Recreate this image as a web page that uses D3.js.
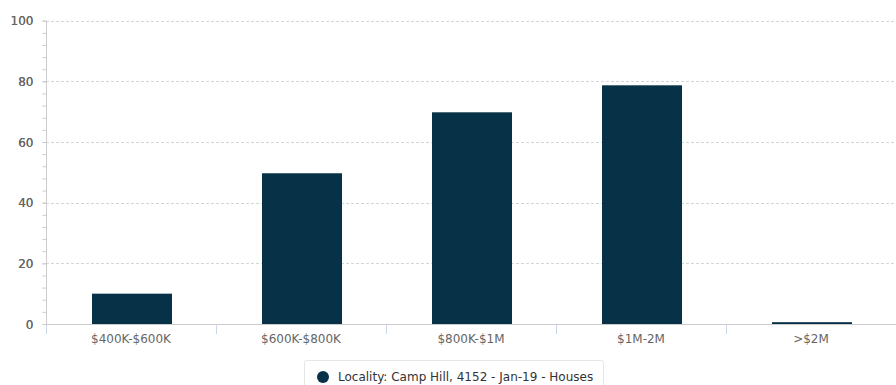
<!DOCTYPE html>
<html>
<head>
<meta charset="utf-8">
<script src="https://cdn.jsdelivr.net/npm/d3@7"></script>
<style>
  html, body { margin: 0; padding: 0; background: #ffffff; }
  svg { display: block; font-family: "DejaVu Sans", sans-serif; }
</style>
</head>
<body>
<svg id="chart" width="896" height="385"></svg>
<script>
// Price bands and share of sales in each band
const categories = ["$400K-$600K", "$600K-$800K", "$800K-$1M", "$1M-2M", ">$2M"];
const values = [10, 49.7, 69.8, 78.7, 0.6];
const yTicks = [0, 20, 40, 60, 80, 100];
const seriesName = "Locality: Camp Hill, 4152 - Jan-19 - Houses";

const svg = d3.select("#chart");
const margin = { left: 46, right: 0, top: 20.7, bottom: 61 };
const W = 896, H = 385;
const x0 = margin.left, x1 = W - margin.right;
const y0 = H - margin.bottom, y1 = margin.top;

const x = d3.scaleBand().domain(categories).range([x0, x1]).paddingInner(0).paddingOuter(0);
const y = d3.scaleLinear().domain([0, 100]).range([y0, y1]);

// Horizontal dashed grid lines
svg.append("g").selectAll("line").data(yTicks.filter(d => d > 0)).join("line")
  .attr("x1", x0).attr("x2", x1)
  .attr("y1", d => Math.round(y(d)) + 0.5).attr("y2", d => Math.round(y(d)) + 0.5)
  .attr("stroke", "#d0d8de").attr("stroke-dasharray", "3,2").attr("stroke-width", 1);

// Y axis with minor ticks every 4 units
const yAxis = d3.axisLeft(y).tickValues(d3.range(0, 101, 4).concat(yTicks))
  .tickSize(4).tickFormat(d => yTicks.includes(d) ? d : "");
const gy = svg.append("g").attr("transform", `translate(${x0 + 0.5},0)`).call(yAxis);
gy.select(".domain").attr("stroke", "#cccccc").attr("d", `M0,${y1}V${y0}`);
gy.selectAll(".tick line").attr("stroke", "#cccccc");
gy.selectAll(".tick text").attr("x", -13).attr("dy", "0.35em")
  .attr("fill", "#666666").style("font-size", "12px")
  .style("font-family", "'DejaVu Sans', sans-serif");

// Bars
svg.append("g").selectAll("rect").data(values).join("rect")
  .attr("x", (d, i) => x(categories[i]) + (x.bandwidth() - 80) / 2 + 1)
  .attr("width", 80)
  .attr("y", d => y(d))
  .attr("height", d => y0 - y(d))
  .attr("fill", "#063146");

// X axis
const xAxis = d3.axisBottom(x).tickSize(0);
const gx = svg.append("g").attr("transform", `translate(0,${Math.round(y0) + 0.5})`).call(xAxis);
gx.select(".domain").attr("stroke", "#cccccc").attr("d", `M${x0},0H${x1}`);
gx.selectAll(".tick text").attr("y", 10).attr("dy", "0.71em")
  .attr("fill", "#666666").style("font-size", "12px")
  .style("font-family", "'DejaVu Sans', sans-serif");

// Category boundary ticks
const boundaries = categories.map(c => x(c)).concat([x1]);
svg.append("g").selectAll("line").data(boundaries).join("line")
  .attr("x1", d => Math.round(d) + 0.5).attr("x2", d => Math.round(d) + 0.5)
  .attr("y1", Math.round(y0) + 1).attr("y2", Math.round(y0) + 10)
  .attr("stroke", "#ccd6eb").attr("stroke-width", 1);

// Legend
const lg = svg.append("g");
lg.append("rect").attr("x", 304.5).attr("y", 360.5).attr("width", 299).attr("height", 30)
  .attr("rx", 2).attr("fill", "#ffffff").attr("stroke", "#e6e6e6");
lg.append("circle").attr("cx", 323).attr("cy", 377).attr("r", 6).attr("fill", "#063146");
lg.append("text").attr("x", 338).attr("y", 381).text(seriesName)
  .attr("fill", "#333333").style("font-size", "12px");
</script>
</body>
</html>
